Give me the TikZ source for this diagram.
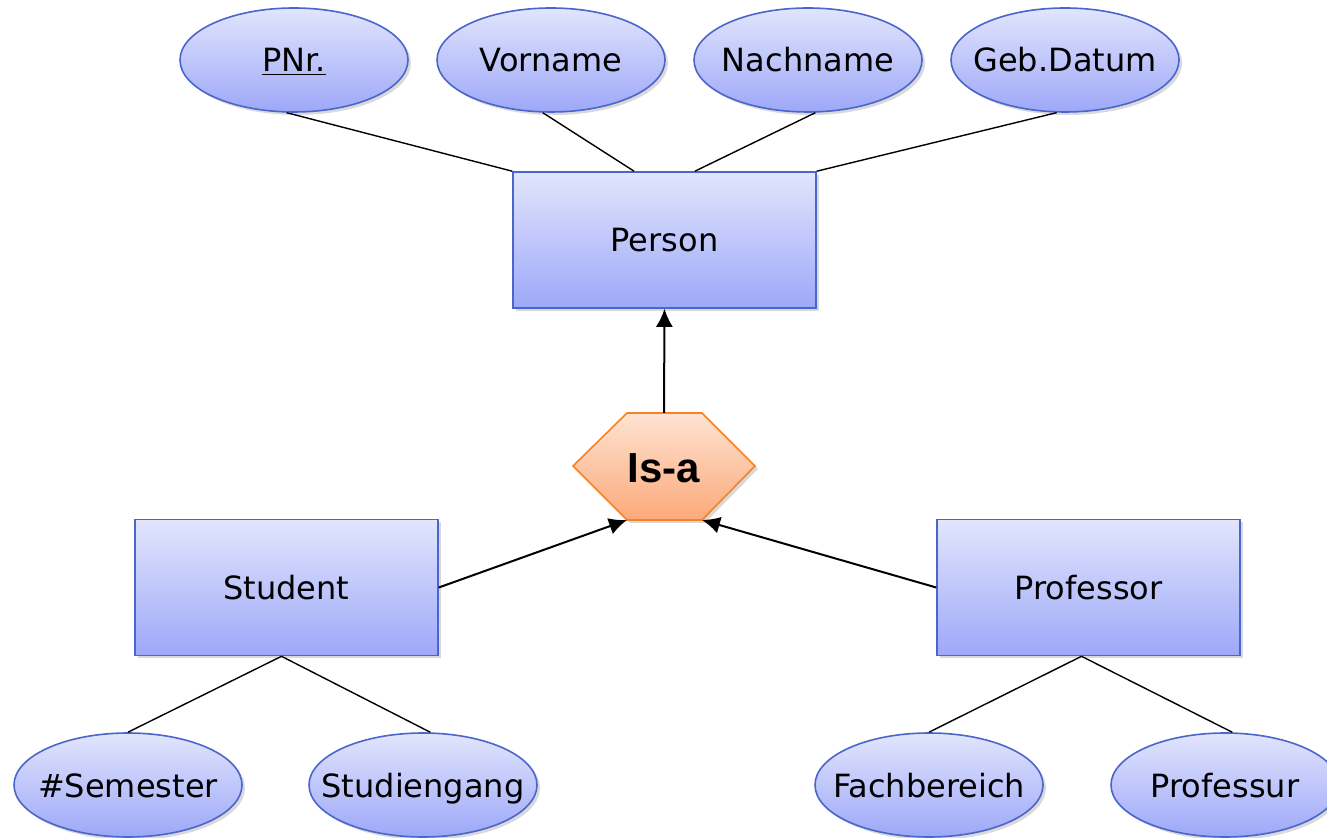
\documentclass[tikz,border=0pt]{standalone}
\usepackage{fontspec}
\setmainfont{DejaVu Sans}
\newfontfamily\isafont{Liberation Sans}
\usetikzlibrary{calc,shadows,arrows.meta,shapes.geometric}
\definecolor{entitytop}{HTML}{E2E5FD}
\definecolor{entitybot}{HTML}{9DA8F8}
\definecolor{entityline}{HTML}{4A66CC}
\definecolor{isatop}{HTML}{FDE3D2}
\definecolor{isabot}{HTML}{FCA97A}
\definecolor{isaline}{HTML}{F58326}

\begin{document}
\begin{tikzpicture}[x=0.5pt, y=-0.5pt]
		\tikzstyle{every node} = [font=\fontsize{16}{19}\selectfont, inner sep=0pt, text height=15pt, text depth=3pt]
		\tikzstyle{entity} = [rectangle, draw=entityline, line width=0.8pt, top color=entitytop, bottom color=entitybot, minimum width=151.5pt, minimum height=68pt, drop shadow={opacity=0.3, shadow xshift=1.5pt, shadow yshift=-1.5pt}]
		\tikzstyle{attr} = [ellipse, draw=entityline, line width=0.8pt, top color=entitytop, bottom color=entitybot, inner xsep=-30pt, inner ysep=-6pt, minimum width=114pt, minimum height=52pt, drop shadow={opacity=0.3, shadow xshift=1.5pt, shadow yshift=-1.5pt}]
		\tikzstyle{link} = [line width=0.7pt, black]
		\tikzstyle{isa link} = [line width=1pt, black, -{Latex[length=9pt, width=8.5pt]}]
		\useasboundingbox (0,0) rectangle (1327,838);
		% attributes of Person
		\node[attr] (pnr) at (294, 60) {\underline{PNr.}};
		\node[attr] (vorname) at (551, 60) {Vorname};
		\node[attr] (nachname) at (808, 60) {Nachname};
		\node[attr] (gebdatum) at (1065, 60) {Geb.Datum};
		% entities
		\node[entity] (person) at (664.5, 240) {Person};
		\node[entity] (student) at (286.5, 587.5) {Student};
		\node[entity] (professor) at (1088.5, 587.5) {Professor};
		% is-a hexagon
		\coordinate (isaw) at (573, 466);
		\coordinate (isanw) at (627, 413);
		\coordinate (isane) at (702, 413);
		\coordinate (isae) at (755, 466);
		\coordinate (isase) at (702, 520);
		\coordinate (isasw) at (627, 520);
		\filldraw[draw=isaline, line width=0.8pt, top color=isatop, bottom color=isabot, drop shadow={opacity=0.3, shadow xshift=1.5pt, shadow yshift=-1.5pt}] (isaw) -- (isanw) -- (isane) -- (isae) -- (isase) -- (isasw) -- cycle;
		\node (isa) at (664, 471) {\isafont\fontsize{21}{24}\selectfont\bfseries Is-a};
		\coordinate (isatop) at (664, 413);
		% attributes of Student and Professor
		\node[attr] (semester) at (128, 785) {\#Semester};
		\node[attr] (studiengang) at (423, 785) {Studiengang};
		\node[attr] (fachbereich) at (929, 785) {Fachbereich};
		\node[attr] (professur) at (1225, 785) {Professur};
		% connectors
		\draw[link] (pnr.262) -- (person.north west);
		\draw[link] (vorname.261) -- ($(person.north west)!0.4!(person.north east)$);
		\draw[link] (nachname.278) -- ($(person.north west)!0.6!(person.north east)$);
		\draw[link] (gebdatum.261) -- (person.north east);
		\draw[isa link] (isatop) -- (person.south);
		\draw[isa link] (student.east) -- (isasw);
		\draw[isa link] (professor.west) -- (isase);
		\draw[link] ($(student.south)+(-5,0)$) -- (semester.north);
		\draw[link] ($(student.south)+(-5,0)$) -- (studiengang.82);
		\draw[link] ($(professor.south)+(-7,0)$) -- (fachbereich.north);
		\draw[link] ($(professor.south)+(-7,0)$) -- (professur.82);
	\end{tikzpicture}
\end{document}
